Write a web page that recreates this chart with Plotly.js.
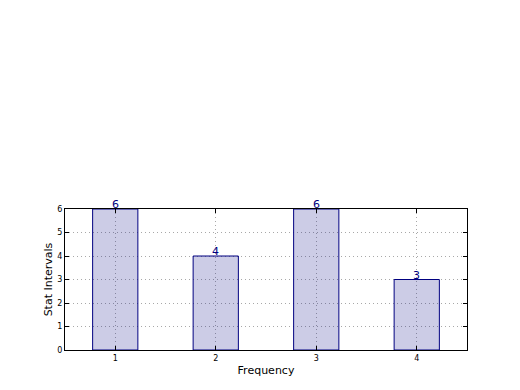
<!DOCTYPE html>
<html><head><meta charset="utf-8">
<script src="https://cdn.plot.ly/plotly-3.0.1.min.js"></script>
<style>html,body{margin:0;padding:0;background:#fff}#c{width:520px;height:390px}</style>
</head><body><div id="c"></div>
<script>
const categories = [1, 2, 3, 4];
const values = [6, 4, 6, 3];
const labels = ["6", "4", "6", "3"];
const yTicks = [0, 1, 2, 3, 4, 5, 6];

const trace = {
  type: 'bar', x: categories, y: values, width: 0.45,
  marker: {color: 'rgba(0,0,128,0.2)', line: {color: '#000080', width: 1}},
  cliponaxis: false, hoverinfo: 'none'
};
const annotations = categories.map((c, i) => ({
  x: c, y: values[i], xref: 'x', yref: 'y', text: labels[i], showarrow: false,
  yanchor: 'bottom', yshift: -4,
  font: {family: 'DejaVu Sans', size: 11, color: '#000080'}
}));
const axisCommon = {
  showline: true, mirror: 'ticks', linecolor: '#000', linewidth: 1,
  ticks: 'inside', ticklen: 4, tickcolor: '#000',
  showgrid: true, gridcolor: '#a8a8a8', griddash: '1px,3px', gridwidth: 1,
  zeroline: false, tickfont: {family: 'DejaVu Sans', size: 8, color: '#000'}
};
const layout = {
  width: 520, height: 390, paper_bgcolor: '#fff', plot_bgcolor: '#fff',
  margin: {l: 65, r: 53, t: 209, b: 40},
  showlegend: false, annotations: annotations,
  xaxis: Object.assign({}, axisCommon, {range: [0.5, 4.5], tickvals: categories,
    title: {text: 'Frequency', font: {family: 'DejaVu Sans', size: 11, color: '#000'}, standoff: 4}}),
  yaxis: Object.assign({}, axisCommon, {range: [0, 6], tickvals: yTicks,
    title: {text: 'Stat Intervals', font: {family: 'DejaVu Sans', size: 11, color: '#000'}, standoff: 2}}),
  bargap: 0
};
Plotly.newPlot('c', [trace], layout, {staticPlot: true});
</script></body></html>
